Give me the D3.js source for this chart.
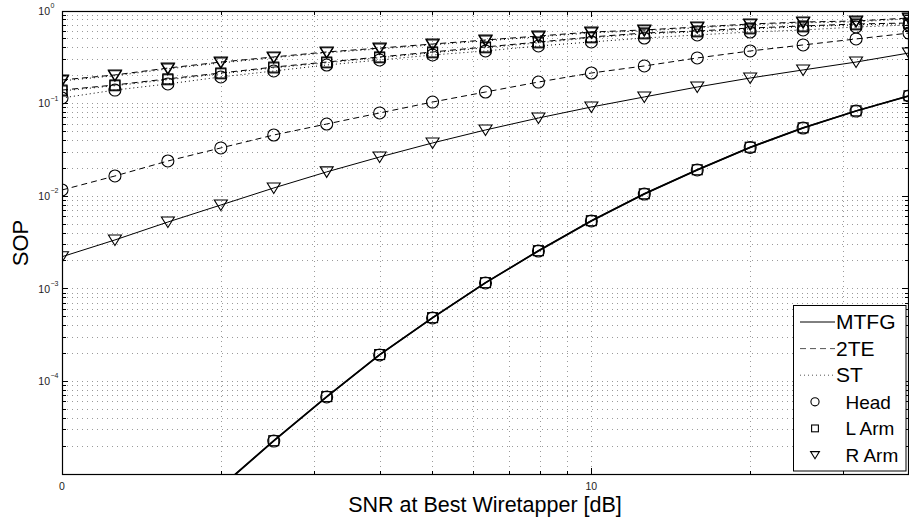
<!DOCTYPE html>
<html>
<head>
<meta charset="utf-8">
<script src="https://cdn.jsdelivr.net/npm/d3@7"></script>
<style>
  html, body { margin: 0; padding: 0; background: #fff; }
  svg { display: block; }
  text { font-family: "Liberation Sans", Arial, Helvetica, sans-serif; }
</style>
</head>
<body>
<svg id="chart" width="909" height="519"></svg>
<script>
// ---- data ----
const snrDb = [0, 1, 2, 3, 4, 5, 6, 7, 8, 9, 10, 11, 12, 13, 14, 15, 16];

const mtfgHead = [null, null, null, 7.2e-6, 2.27e-5, 6.79e-5, 1.93e-4, 4.84e-4, 1.156e-3, 2.56e-3, 5.40e-3, 1.056e-2, 1.92e-2, 3.36e-2, 5.45e-2, 8.31e-2, 0.121];
const mtfgLArm = [null, null, null, 7.3e-6, 2.29e-5, 6.85e-5, 1.95e-4, 4.88e-4, 1.165e-3, 2.58e-3, 5.44e-3, 1.062e-2, 1.93e-2, 3.38e-2, 5.48e-2, 8.35e-2, 0.1215];
const mtfgRArm = [0.00222, 0.00337, 0.00526, 0.00803, 0.01227, 0.0183, 0.0265, 0.0376, 0.0519, 0.0699, 0.0919, 0.118, 0.151, 0.189, 0.231, 0.281, 0.352];

const teHead = [0.01167, 0.01653, 0.0240, 0.0332, 0.0458, 0.0602, 0.0792, 0.104, 0.1334, 0.171, 0.214, 0.255, 0.311, 0.370, 0.430, 0.499, 0.578];
const teLArm = [0.140, 0.159, 0.185, 0.214, 0.248, 0.281, 0.319, 0.361, 0.409, 0.462, 0.524, 0.579, 0.608, 0.655, 0.689, 0.724, 0.742];
const teRArm = [0.180, 0.204, 0.242, 0.281, 0.319, 0.361, 0.398, 0.440, 0.486, 0.537, 0.593, 0.624, 0.672, 0.724, 0.761, 0.780, 0.840];

const stHead = [0.115, 0.140, 0.163, 0.194, 0.225, 0.261, 0.296, 0.335, 0.370, 0.419, 0.463, 0.511, 0.551, 0.593, 0.624, 0.672, 0.706];
const stLArm = [0.137, 0.156, 0.181, 0.210, 0.243, 0.276, 0.313, 0.354, 0.401, 0.453, 0.514, 0.567, 0.596, 0.642, 0.675, 0.710, 0.728];
const stRArm = [0.176, 0.200, 0.237, 0.275, 0.313, 0.354, 0.390, 0.431, 0.476, 0.526, 0.581, 0.612, 0.659, 0.710, 0.746, 0.764, 0.823];

const xTickDb = [0, 10];
const xTickLabels = ["0", "10"];
const yTickExp = [0, -1, -2, -3, -4];

const schemes = ["MTFG", "2TE", "ST"];
const antennas = ["Head", "L Arm", "R Arm"];

const series = [
  { scheme: "MTFG", ant: "Head", values: mtfgHead },
  { scheme: "MTFG", ant: "L Arm", values: mtfgLArm },
  { scheme: "MTFG", ant: "R Arm", values: mtfgRArm },
  { scheme: "2TE", ant: "Head", values: teHead },
  { scheme: "2TE", ant: "L Arm", values: teLArm },
  { scheme: "2TE", ant: "R Arm", values: teRArm },
  { scheme: "ST", ant: "Head", values: stHead },
  { scheme: "ST", ant: "L Arm", values: stLArm },
  { scheme: "ST", ant: "R Arm", values: stRArm }
];

// ---- layout ----
const L = 62, R = 909, T = 11, B = 474;
const svg = d3.select("#chart");

const toLin = db => Math.pow(10, db / 10);
const x = d3.scaleLog().domain([1, toLin(16)]).range([L, R]);
const y = d3.scaleLog().domain([1e-5, 1]).range([B, T]);

const dashOf = { "MTFG": null, "2TE": "6,4", "ST": "1,3" };

// ---- grid ----
const grid = svg.append("g");
const xMinor = [];
[1, 10].forEach(d => { for (let k = 1; k <= 9; k++) { const v = d * k; if (v > 1 && v < x.domain()[1]) xMinor.push(v); } });
xMinor.forEach(v => {
  grid.append("line").attr("x1", x(v)).attr("x2", x(v)).attr("y1", T).attr("y2", B)
    .attr("stroke", "#9a9a9a").attr("stroke-width", 1).attr("stroke-dasharray", "1,4")
    .attr("shape-rendering", "crispEdges");
});
const yGrid = [];
for (let e = -5; e < 0; e++) { for (let k = 1; k <= 9; k++) { const v = k * Math.pow(10, e); if (v > 1e-5) yGrid.push(v); } }
yGrid.push(1);
yGrid.forEach(v => {
  if (v >= 1) return;
  grid.append("line").attr("x1", L).attr("x2", R).attr("y1", y(v)).attr("y2", y(v))
    .attr("stroke", "#9a9a9a").attr("stroke-width", 1).attr("stroke-dasharray", "1,4")
    .attr("shape-rendering", "crispEdges");
});

// ---- ticks (inward, all four sides) ----
const ticks = svg.append("g").attr("stroke", "#000").attr("stroke-width", 1).attr("shape-rendering", "crispEdges");
const xAll = [1].concat(xMinor);
xAll.forEach(v => {
  const major = (v === 1 || v === 10);
  const len = major ? 6 : 3.5;
  ticks.append("line").attr("x1", x(v)).attr("x2", x(v)).attr("y1", B).attr("y2", B - len);
  ticks.append("line").attr("x1", x(v)).attr("x2", x(v)).attr("y1", T).attr("y2", T + len);
});
yGrid.forEach(v => {
  const lg = Math.log10(v);
  const major = Math.abs(lg - Math.round(lg)) < 1e-9;
  const len = major ? 6 : 3.5;
  ticks.append("line").attr("x1", L).attr("x2", L + len).attr("y1", y(v)).attr("y2", y(v));
  ticks.append("line").attr("x1", R - 1).attr("x2", R - 1 - len).attr("y1", y(v)).attr("y2", y(v));
});

// ---- axes frame ----
svg.append("rect").attr("x", L + 0.5).attr("y", T + 0.5).attr("width", R - L - 1).attr("height", B - T)
  .attr("fill", "none").attr("stroke", "#000").attr("stroke-width", 1.2);

// ---- tick labels ----
xTickDb.forEach((db, i) => {
  svg.append("text").attr("x", x(toLin(db))).attr("y", 489.5).attr("text-anchor", "middle")
    .attr("font-size", "10.5px").attr("fill", "#222").text(xTickLabels[i]);
});
yTickExp.forEach(e => {
  const yy = y(Math.pow(10, e));
  svg.append("text").attr("x", 50).attr("y", yy + 3.8).attr("text-anchor", "end")
    .attr("font-size", "10.5px").attr("fill", "#222").text("10");
  svg.append("text").attr("x", 50.5).attr("y", yy - 3).attr("text-anchor", "start")
    .attr("font-size", "7px").attr("fill", "#222").text(e === 0 ? "0" : "\u2212" + Math.abs(e));
});

// ---- axis titles ----
svg.append("text").attr("x", 485).attr("y", 511.5).attr("text-anchor", "middle")
  .attr("font-size", "21.5px").attr("fill", "#000").text("SNR at Best Wiretapper [dB]");
svg.append("text").attr("transform", "translate(28,243) rotate(-90)").attr("text-anchor", "middle")
  .attr("font-size", "22px").attr("fill", "#000").text("SOP");

// ---- clip ----
svg.append("defs").append("clipPath").attr("id", "plotclip")
  .append("rect").attr("x", L).attr("y", T).attr("width", R - L + 8).attr("height", B - T);

const plot = svg.append("g").attr("clip-path", "url(#plotclip)");

const line = d3.line()
  .defined(d => d.v != null)
  .x(d => x(toLin(d.db)))
  .y(d => y(d.v));

function drawMarker(g, ant, cx, cy, s) {
  if (ant === "Head") {
    g.append("circle").attr("cx", cx).attr("cy", cy).attr("r", 6 * s)
      .attr("fill", "none").attr("stroke", "#000").attr("stroke-width", 1.1);
  } else if (ant === "L Arm") {
    g.append("rect").attr("x", cx - 5 * s).attr("y", cy - 5 * s).attr("width", 10 * s).attr("height", 10 * s)
      .attr("fill", "none").attr("stroke", "#000").attr("stroke-width", 1.1);
  } else {
    const p = [[cx - 6.5 * s, cy - 5 * s], [cx + 6.5 * s, cy - 5 * s], [cx, cy + 5.5 * s]];
    g.append("path").attr("d", "M" + p.map(q => q.join(",")).join("L") + "Z")
      .attr("fill", "none").attr("stroke", "#000").attr("stroke-width", 1.1);
  }
}

series.forEach(s => {
  const pts = snrDb.map((db, i) => ({ db: db, v: s.values[i] }));
  plot.append("path").datum(pts).attr("d", line)
    .attr("fill", "none").attr("stroke", "#000")
    .attr("stroke-width", s.scheme === "MTFG" && s.ant !== "R Arm" ? 1.5 : 1)
    .attr("stroke-dasharray", dashOf[s.scheme]);
  pts.filter(d => d.v != null).forEach(d => drawMarker(plot, s.ant, x(toLin(d.db)), y(d.v), 1));
});

// ---- legend ----
const lg = svg.append("g");
lg.append("rect").attr("x", 793.5).attr("y", 305.5).attr("width", 112.5).attr("height", 165.5)
  .attr("fill", "#fff").attr("stroke", "#000").attr("stroke-width", 1);
const rowY = [322, 348.6, 375.2, 401.8, 428.4, 455];
schemes.forEach((sc, i) => {
  lg.append("line").attr("x1", 800).attr("x2", 835).attr("y1", rowY[i]).attr("y2", rowY[i])
    .attr("stroke", sc === "MTFG" ? "#000" : "#555").attr("stroke-width", 1)
    .attr("stroke-dasharray", dashOf[sc]);
  lg.append("text").attr("x", 836).attr("y", rowY[i] + 7).attr("font-size", "21px").text(sc);
});
antennas.forEach((a, j) => {
  const yy = rowY[3 + j];
  drawMarker(lg, a, 815, yy, 0.68);
  lg.append("text").attr("x", 845.5).attr("y", yy + 7).attr("font-size", "19px").text(a);
});
</script>
</body>
</html>
